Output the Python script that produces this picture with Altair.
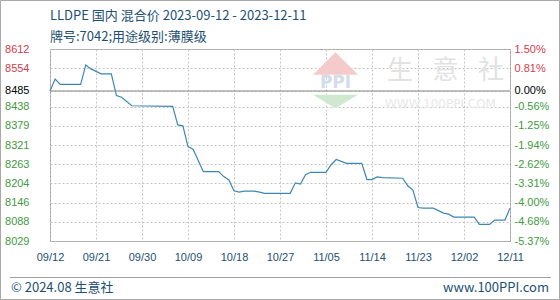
import json
import altair as alt
import pandas as pd

# ---------------- data ----------------
dates = [
    "2023-09-12", "2023-09-13", "2023-09-14", "2023-09-18", "2023-09-19", "2023-09-20",
    "2023-09-22", "2023-09-24", "2023-09-25", "2023-09-26", "2023-09-28", "2023-10-06",
    "2023-10-07", "2023-10-08", "2023-10-09", "2023-10-10", "2023-10-12", "2023-10-15",
    "2023-10-16", "2023-10-17", "2023-10-18", "2023-10-19", "2023-10-20", "2023-10-22",
    "2023-10-23", "2023-10-24", "2023-10-29", "2023-10-30", "2023-10-31", "2023-11-01",
    "2023-11-02", "2023-11-05", "2023-11-06", "2023-11-07", "2023-11-09", "2023-11-12",
    "2023-11-13", "2023-11-14", "2023-11-15", "2023-11-16", "2023-11-20", "2023-11-21",
    "2023-11-22", "2023-11-23", "2023-11-24", "2023-11-26", "2023-11-28", "2023-11-29",
    "2023-11-30", "2023-12-04", "2023-12-05", "2023-12-07", "2023-12-08", "2023-12-10",
    "2023-12-11",
]
prices = [
    8485, 8521, 8505, 8505, 8564, 8552,
    8537, 8537, 8471, 8466, 8440, 8438,
    8382, 8379, 8316, 8308, 8240, 8240,
    8225, 8215, 8182, 8178, 8181, 8181,
    8178, 8174, 8174, 8206, 8202, 8231,
    8238, 8238, 8261, 8277, 8265, 8265,
    8216, 8216, 8224, 8222, 8220, 8197,
    8184, 8131, 8129, 8129, 8114, 8111,
    8102, 8102, 8080, 8080, 8093, 8093,
    8129,
]
x_ticks = ["2023-09-12", "2023-09-21", "2023-09-30", "2023-10-09", "2023-10-18", "2023-10-27",
           "2023-11-05", "2023-11-14", "2023-11-23", "2023-12-02", "2023-12-11"]
y_ticks = [8029.4, 8087.7, 8146.0, 8204.3, 8262.6, 8320.9, 8379.2, 8437.5, 8485, 8554.1, 8612.4]
y_left_labels = ["8029", "8088", "8146", "8204", "8263", "8321", "8379", "8438", "8485", "8554", "8612"]
y_right_labels = ["-5.37%", "-4.68%", "-4.00%", "-3.31%", "-2.62%", "-1.94%", "-1.25%", "-0.56%",
                  "0.00%", "0.81%", "1.50%"]
base_price = [8485]

title_text = ["LLDPE 国内 混合价 2023-09-12 - 2023-12-11"]
subtitle_text = ["牌号:7042;用途级别:薄膜级"]
footer_left = ["© 2024.08 生意社"]
footer_right = ["www.100PPI.com"]
wm_text = ["生\u2002\u2005意\u2002\u2005社"]
wm_url = ["WWW.100PPI.COM"]
wm_logo = ["PPI"]

# ---------------- styles ----------------
RED = "#d23c4b"
GREEN = "#43993f"
BLACK = "#000000"
LINE = "#3d87b3"
GRID = "#c4c4c4"
TEXT = "#1d4f73"
AX_FONT = "Liberation Sans"
CJK = "Noto Sans CJK SC"


def dt(s):
    y, m, d = map(int, s.split("-"))
    return alt.DateTime(year=y, month=m, date=d, utc=True)


y_dom = [y_ticks[0], y_ticks[-1]]
left_expr = f"{json.dumps(y_left_labels)}[indexof({json.dumps(y_ticks)}, datum.value)]"
right_expr = f"{json.dumps(y_right_labels)}[indexof({json.dumps(y_ticks)}, datum.value)]"
label_color = {
    "condition": [
        {"test": "datum.value > 8490", "value": RED},
        {"test": "datum.value > 8480", "value": BLACK},
    ],
    "value": GREEN,
}

line_df = pd.DataFrame({"date": dates, "price": prices})

line = alt.Chart(line_df).mark_line(color=LINE, strokeWidth=1.2).encode(
    x=alt.X(
        "date:T",
        scale=alt.Scale(type="utc", domain=[dt(x_ticks[0]), dt(x_ticks[-1])]),
        axis=alt.Axis(
            values=[dt(s) for s in x_ticks], format="%m/%d", title=None,
            grid=True, gridDash=[2, 2], gridColor=GRID, ticks=False, tickSize=0,
            domain=False, labelPadding=10, labelFont=AX_FONT, labelFontSize=11,
            labelColor=TEXT, labelFlush=False, labelOverlap=False,
        ),
    ),
    y=alt.Y(
        "price:Q",
        scale=alt.Scale(domain=y_dom, nice=False, zero=False),
        axis=alt.Axis(
            orient="left", values=y_ticks, labelExpr=left_expr, title=None,
            grid=True, gridDash=[2, 2], gridColor=GRID, ticks=False, tickSize=0,
            domain=False, labelPadding=21, labelFont=AX_FONT, labelFontSize=11,
            labelColor=label_color, labelFlush=False, labelOverlap=False,
        ),
    ),
)

base_rule = alt.Chart(pd.DataFrame({"price": base_price})).mark_rule(
    color="#8a8a8a", strokeWidth=1
).encode(
    y=alt.Y(
        "price:Q",
        scale=alt.Scale(domain=y_dom, nice=False, zero=False),
        axis=alt.Axis(
            orient="right", values=y_ticks, labelExpr=right_expr, title=None,
            grid=False, ticks=False, tickSize=0, domain=False, labelPadding=4,
            labelFont=AX_FONT, labelFontSize=11, labelColor=label_color,
            labelFlush=False, labelOverlap=False,
        ),
    )
)


def text_layer(values, x, y, size, color, align="left", font=CJK, weight="normal"):
    return alt.Chart(pd.DataFrame({"t": values})).mark_text(
        align=align, baseline="middle", font=font, fontSize=size, color=color,
        fontWeight=weight,
    ).encode(x=alt.value(x), y=alt.value(y), text="t:N")


one = pd.DataFrame({"t": [""]})

outer = alt.Chart(one).mark_rect(fillOpacity=0, stroke="#a8a8a8", strokeWidth=1).encode(
    x=alt.value(-49.5), x2=alt.value(509.5), y=alt.value(-48.5), y2=alt.value(250.5)
)
separator = alt.Chart(one).mark_rule(color="#a0a0a0", strokeWidth=1).encode(
    x=alt.value(-40), x2=alt.value(501), y=alt.value(228.5)
)

roof = alt.Chart(one).mark_point(
    shape="M -1 0.5 L 0 -0.5 L 1 0.5 Z", filled=True, color="#f5caca", opacity=1, size=2025
).encode(x=alt.value(285.5), y=alt.value(14.5))
bowl = alt.Chart(one).mark_point(
    shape="M -1 -0.3 L 1 -0.3 L 0 0.3 Z", filled=True, color="#cfe8cf", opacity=1, size=2025
).encode(x=alt.value(285.5), y=alt.value(52.5))
logo_txt = text_layer(wm_logo, 285.5, 34, 17, "#d3dcea", align="center", font="DejaVu Sans", weight="bold")
wm_big = text_layer(wm_text, 337, 22, 26, "#e2e2e2")
wm_small = text_layer(wm_url, 335, 55, 12, "#e8e8e8", font="DejaVu Sans")

title = text_layer(title_text, 0, -33, 13, TEXT)
subtitle = text_layer(subtitle_text, 0, -12, 13, TEXT)
foot_l = text_layer(footer_left, -39, 239, 13, TEXT)
foot_r = text_layer(footer_right, 499, 239, 13, TEXT, align="right")

chart = alt.layer(
    outer, roof, bowl, logo_txt, wm_big, wm_small,
    line, base_rule,
    title, subtitle, separator, foot_l, foot_r,
).resolve_scale(y="independent").properties(
    width=460,
    height=192,
    padding={"left": 50, "top": 49, "right": 50, "bottom": 59},
    autosize=alt.AutoSizeParams(type="none"),
    background="white",
).configure_view(stroke="#a0a0a0", strokeWidth=1)

chart.save("out.html", embed_options={"renderer": "svg", "actions": False})
